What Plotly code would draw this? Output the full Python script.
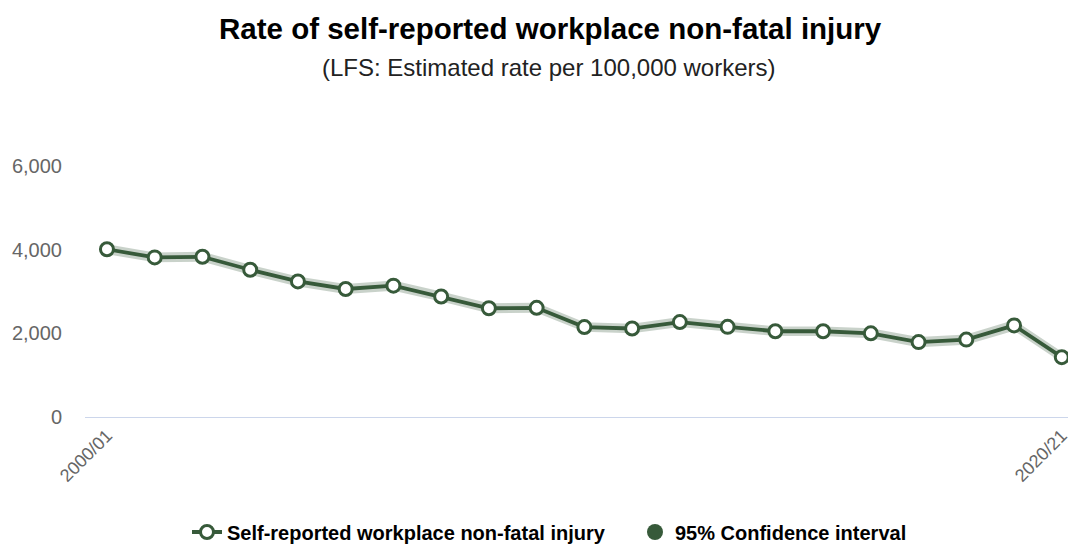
import plotly.graph_objects as go

years = ["2000/01", "2001/02", "2002/03", "2003/04", "2004/05", "2005/06", "2006/07",
         "2007/08", "2008/09", "2009/10", "2010/11", "2011/12", "2012/13", "2013/14",
         "2014/15", "2015/16", "2016/17", "2017/18", "2018/19", "2019/20", "2020/21"]
rate = [4010, 3815, 3830, 3520, 3240, 3060, 3140, 2880, 2600, 2610, 2150, 2115,
        2270, 2155, 2050, 2050, 2000, 1790, 1850, 2190, 1430]
ci_lower = [3890, 3700, 3710, 3400, 3120, 2940, 3020, 2760, 2480, 2490, 2035, 2000,
            2150, 2040, 1935, 1935, 1880, 1670, 1730, 2060, 1300]
ci_upper = [4130, 3930, 3950, 3640, 3360, 3180, 3260, 3000, 2720, 2730, 2265, 2230,
            2390, 2270, 2165, 2165, 2120, 1910, 1970, 2320, 1560]
y_ticks = [0, 2000, 4000, 6000]
x_tick_labels = ["2000/01", "2020/21"]

GREEN = "#375a3a"
BAND = "rgba(55,90,58,0.27)"
FONT = "Arial, 'Liberation Sans', sans-serif"

W, H = 1068, 545
ML, MR, MT, MB = 85, 0, 166, 128
PW, PH = W - ML - MR, H - MT - MB


def px_x(px):
    return (px - ML) / PW


def px_y(px_from_top):
    return (H - MB - px_from_top) / PH


idx = list(range(len(years)))

fig = go.Figure()
fig.add_trace(go.Scatter(x=idx, y=ci_lower, mode="lines", line=dict(width=0),
                         showlegend=False, hoverinfo="skip"))
fig.add_trace(go.Scatter(x=idx, y=ci_upper, mode="lines", line=dict(width=0),
                         fill="tonexty", fillcolor=BAND, showlegend=False,
                         hoverinfo="skip"))
fig.add_trace(go.Scatter(x=idx, y=rate, mode="lines+markers",
                         name="Self-reported workplace non-fatal injury",
                         line=dict(color=GREEN, width=3.8),
                         marker=dict(size=13, color="white",
                                     line=dict(color=GREEN, width=3)),
                         cliponaxis=False, text=years))
fig.add_trace(go.Scatter(x=[None], y=[None], mode="markers",
                         name="95% Confidence interval",
                         marker=dict(size=20, color=GREEN)))

fig.update_layout(
    width=W, height=H,
    margin=dict(l=ML, r=MR, t=MT, b=MB, autoexpand=False),
    paper_bgcolor="white", plot_bgcolor="white",
    font=dict(family=FONT, color="#333333"),
    showlegend=True,
    legend=dict(orientation="h", traceorder="normal",
                x=px_x(187), xanchor="left", y=px_y(532), yanchor="middle",
                font=dict(size=20, color="#000000", weight="bold", family=FONT),
                entrywidth=403, entrywidthmode="pixels", itemwidth=30),
)

fig.add_annotation(text="Rate of self-reported workplace non-fatal injury",
                   x=px_x(550), xref="paper", y=px_y(28), yref="paper",
                   showarrow=False, xanchor="center", yanchor="middle",
                   font=dict(size=29.5, color="#000000", weight="bold", family=FONT))
fig.add_annotation(text="(LFS: Estimated rate per 100,000 workers)",
                   x=px_x(549), xref="paper", y=px_y(68), yref="paper",
                   showarrow=False, xanchor="center", yanchor="middle",
                   font=dict(size=24, color="#222222", family=FONT))

fig.update_xaxes(range=[-0.46, 20.13], showgrid=False, zeroline=False,
                 showline=True, linecolor="#ccd6eb", linewidth=1, automargin=False,
                 tickvals=[0, 20], ticktext=x_tick_labels, tickangle=-45,
                 ticklabeloverflow="allow",
                 tickfont=dict(size=18, color="#666666", family=FONT), ticks="")
fig.update_yaxes(range=[0, 6000], showgrid=False, zeroline=False, showline=False,
                 automargin=False,
                 tickvals=y_ticks, tickformat=",", ticklabelstandoff=22,
                 tickfont=dict(size=20, color="#666666", family=FONT))

fig.write_html(
    "out.html",
    config={"displayModeBar": False},
    post_script="document.body.style.margin='0';"
                "document.body.style.overflow='hidden';"
                "document.documentElement.style.overflow='hidden';",
)
